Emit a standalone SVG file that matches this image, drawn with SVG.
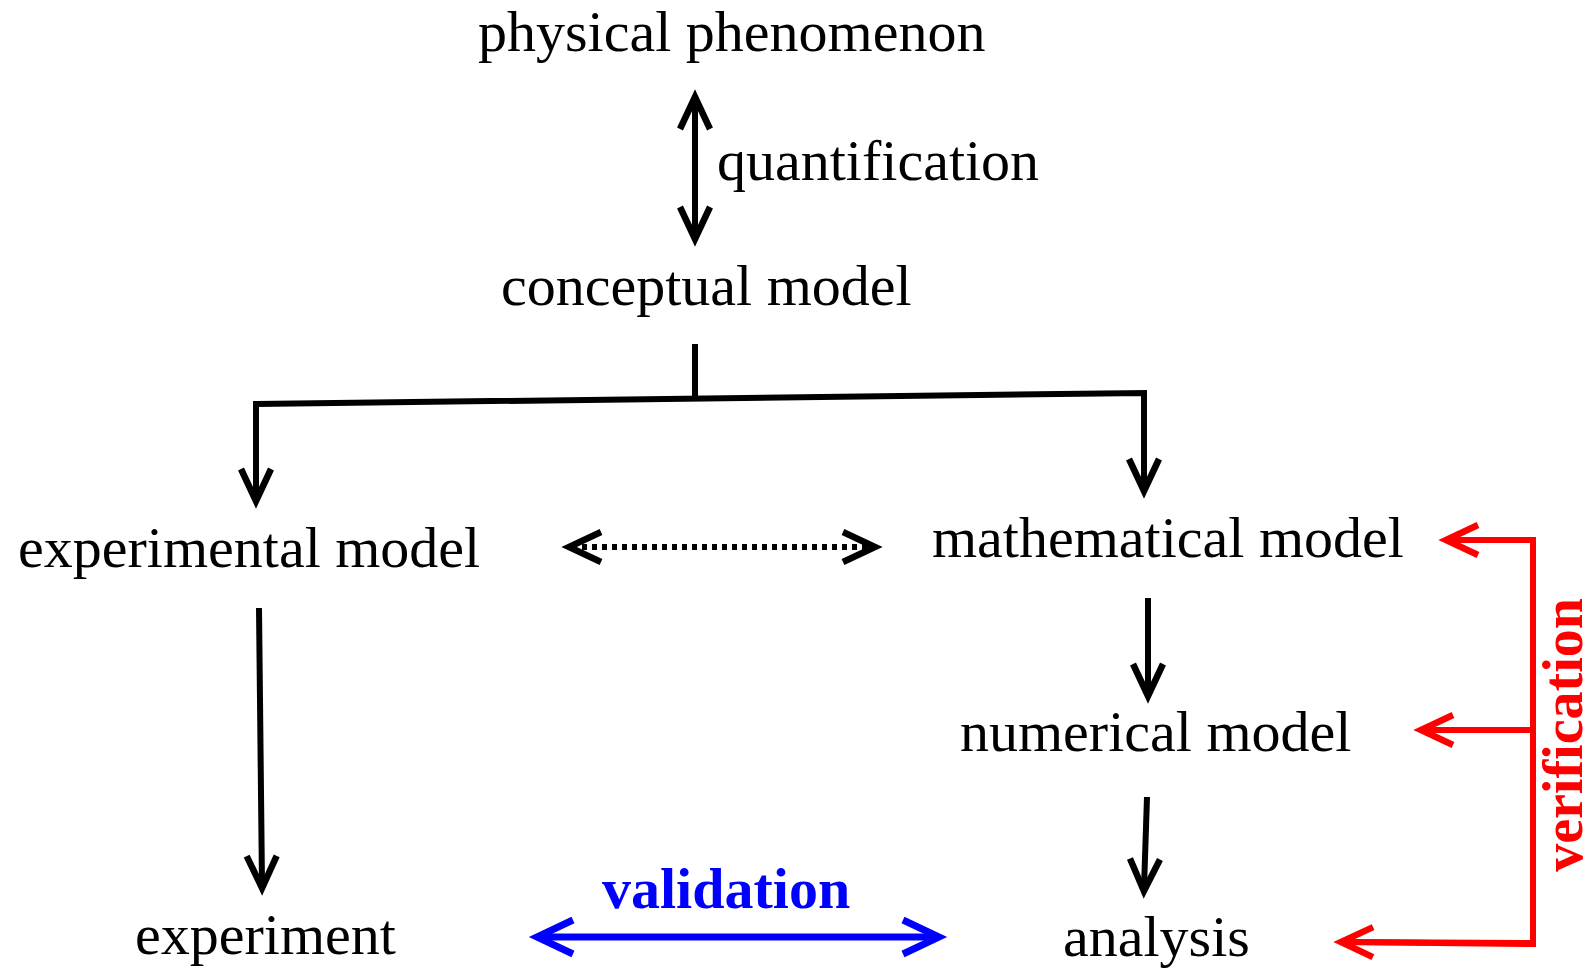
<svg xmlns="http://www.w3.org/2000/svg" width="1595" height="969" viewBox="0 0 1595 969">
<style>
.t{font-family:"Liberation Serif","Times New Roman",serif;font-size:58px;fill:#000}
.b{font-weight:bold}
.k{stroke:#000;stroke-width:6;fill:none}
.r{stroke:#ff0000;stroke-width:6;fill:none}
.bl{stroke:#0000ff;stroke-width:7;fill:none}
</style>
<defs>
<marker id="ak" markerUnits="userSpaceOnUse" viewBox="-40 -20 44 40" markerWidth="44" markerHeight="40" refX="-3" refY="0" orient="auto-start-reverse" overflow="visible">
<path d="M-32,-15 L0,0 L-32,15" fill="none" stroke="#000" stroke-width="6.5"/>
</marker>
<marker id="ar" markerUnits="userSpaceOnUse" viewBox="-40 -20 44 40" markerWidth="44" markerHeight="40" refX="-3" refY="0" orient="auto-start-reverse" overflow="visible">
<path d="M-32,-15 L0,0 L-32,15" fill="none" stroke="#ff0000" stroke-width="6.5"/>
</marker>
<marker id="ab" markerUnits="userSpaceOnUse" viewBox="-44 -22 48 44" markerWidth="48" markerHeight="44" refX="-3" refY="0" orient="auto-start-reverse" overflow="visible">
<path d="M-36,-17 L0,0 L-36,17" fill="none" stroke="#0000ff" stroke-width="7"/>
</marker>
</defs>
<rect width="1595" height="969" fill="#fff"/>
<g id="connectors">
<line class="k" x1="695" y1="100" x2="695" y2="236" stroke-width="4.5" marker-start="url(#ak)" marker-end="url(#ak)"/>
<line class="k" x1="695" y1="344" x2="695" y2="400" stroke-width="5"/>
<polyline class="k" points="256,404 1144,393 1144,488" marker-end="url(#ak)"/>
<line class="k" x1="256" y1="401" x2="256" y2="498" marker-end="url(#ak)"/>
<line class="k" x1="572" y1="547" x2="872" y2="547" stroke-dasharray="5 5" marker-start="url(#ak)" marker-end="url(#ak)"/>
<line class="k" x1="259" y1="608" x2="262" y2="885" marker-end="url(#ak)"/>
<line class="k" x1="1148" y1="598" x2="1148" y2="693" marker-end="url(#ak)"/>
<line class="k" x1="1147" y1="797" x2="1144" y2="888" marker-end="url(#ak)"/>
<line class="bl" x1="540" y1="937" x2="936" y2="937" marker-start="url(#ab)" marker-end="url(#ab)"/>
<polyline class="r" points="1448,540 1533,540 1533,944 1343,942"/>
<line class="r" x1="1533" y1="540" x2="1449" y2="540" marker-end="url(#ar)"/>
<line class="r" x1="1531" y1="730" x2="1424" y2="730" marker-end="url(#ar)"/>
<line class="r" x1="1533" y1="943" x2="1344" y2="942" marker-end="url(#ar)"/>
</g>
<g id="physical-phenomenon"><text class="t" x="478" y="51">physical phenomenon</text></g>
<g id="quantification"><text class="t" x="717" y="180">quantification</text></g>
<g id="conceptual-model"><text class="t" x="501" y="305">conceptual model</text></g>
<g id="experimental-model"><text class="t" x="18" y="567">experimental model</text></g>
<g id="mathematical-model"><text class="t" x="932" y="557">mathematical model</text></g>
<g id="numerical-model"><text class="t" x="960" y="751">numerical model</text></g>
<g id="experiment"><text class="t" x="135" y="954">experiment</text></g>
<g id="analysis"><text class="t" x="1063" y="956">analysis</text></g>
<g id="validation"><text class="t b" x="602" y="908" style="fill:#0000ff">validation</text></g>
<g id="verification"><text class="t b" transform="translate(1582,735) rotate(-90)" text-anchor="middle" style="fill:#ff0000;font-size:56px">verification</text></g>
</svg>
